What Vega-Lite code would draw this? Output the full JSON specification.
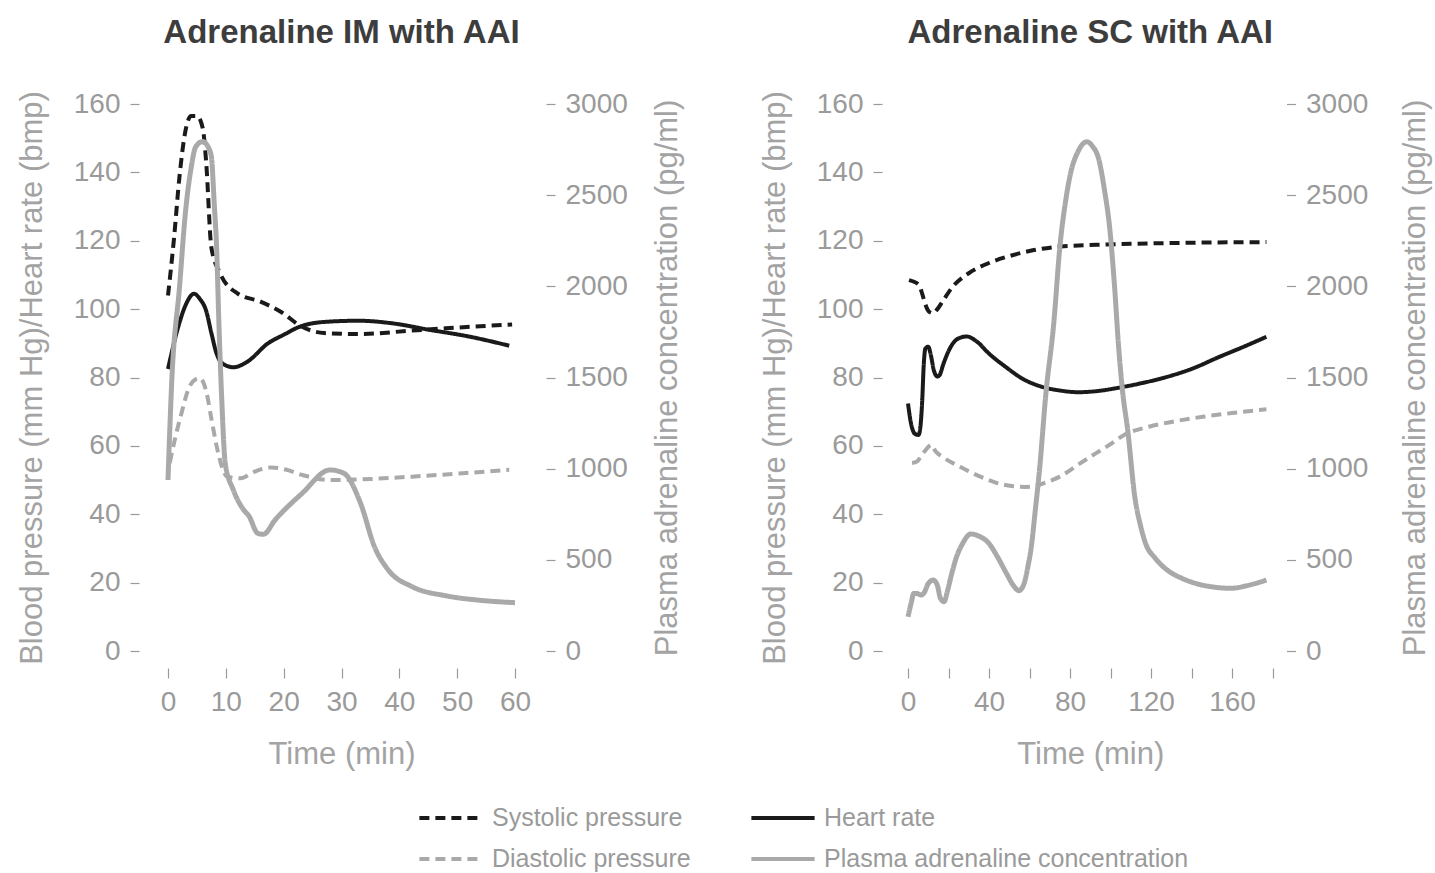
{
  "$schema": "https://vega.github.io/schema/vega-lite/v6.json",
  "padding": {"left": 16, "top": 17, "right": 5, "bottom": 0},
  "background": "white",
  "config": {
    "font": "Liberation Sans",
    "view": {"stroke": null},
    "axis": {"domain": false, "grid": false, "tickColor": "#9a9a9a", "tickWidth": 1.2, "labelColor": "#9a9a9a", "titleColor": "#a3a3a3", "labelFontSize": 28, "titleFontSize": 31, "titleFontWeight": "normal", "tickSize": 9},
    "title": {"fontSize": 33, "fontWeight": "bold", "color": "#3d3d3d", "anchor": "middle"},
    "concat": {"spacing": 76}
  },
  "data": {"values": [
    {"p":"IM","s":"Systolic pressure","t":0,"v":104},
    {"p":"IM","s":"Systolic pressure","t":1,"v":120},
    {"p":"IM","s":"Systolic pressure","t":2,"v":139},
    {"p":"IM","s":"Systolic pressure","t":3,"v":152},
    {"p":"IM","s":"Systolic pressure","t":4,"v":156.5},
    {"p":"IM","s":"Systolic pressure","t":5,"v":156.5},
    {"p":"IM","s":"Systolic pressure","t":6,"v":153},
    {"p":"IM","s":"Systolic pressure","t":6.6,"v":143},
    {"p":"IM","s":"Systolic pressure","t":7.5,"v":118},
    {"p":"IM","s":"Systolic pressure","t":9,"v":110.5},
    {"p":"IM","s":"Systolic pressure","t":12,"v":104.6},
    {"p":"IM","s":"Systolic pressure","t":16,"v":102.2},
    {"p":"IM","s":"Systolic pressure","t":19.7,"v":99},
    {"p":"IM","s":"Systolic pressure","t":23,"v":95},
    {"p":"IM","s":"Systolic pressure","t":27,"v":93},
    {"p":"IM","s":"Systolic pressure","t":33,"v":92.7},
    {"p":"IM","s":"Systolic pressure","t":42,"v":93.7},
    {"p":"IM","s":"Systolic pressure","t":48,"v":94.4},
    {"p":"IM","s":"Systolic pressure","t":54,"v":95},
    {"p":"IM","s":"Systolic pressure","t":59.5,"v":95.5},
    {"p":"IM","s":"Heart rate","t":0,"v":82.5},
    {"p":"IM","s":"Heart rate","t":1.8,"v":95},
    {"p":"IM","s":"Heart rate","t":3,"v":101},
    {"p":"IM","s":"Heart rate","t":4.5,"v":104.5},
    {"p":"IM","s":"Heart rate","t":5.5,"v":103},
    {"p":"IM","s":"Heart rate","t":6.6,"v":99.5},
    {"p":"IM","s":"Heart rate","t":7.5,"v":93},
    {"p":"IM","s":"Heart rate","t":8.4,"v":87},
    {"p":"IM","s":"Heart rate","t":9.5,"v":84},
    {"p":"IM","s":"Heart rate","t":11.3,"v":83},
    {"p":"IM","s":"Heart rate","t":13.7,"v":84.6},
    {"p":"IM","s":"Heart rate","t":17.3,"v":90},
    {"p":"IM","s":"Heart rate","t":20,"v":92.5},
    {"p":"IM","s":"Heart rate","t":23,"v":95},
    {"p":"IM","s":"Heart rate","t":27.4,"v":96.3},
    {"p":"IM","s":"Heart rate","t":33,"v":96.6},
    {"p":"IM","s":"Heart rate","t":39,"v":95.8},
    {"p":"IM","s":"Heart rate","t":45,"v":94},
    {"p":"IM","s":"Heart rate","t":52,"v":92},
    {"p":"IM","s":"Heart rate","t":59,"v":89.3},
    {"p":"IM","s":"Diastolic pressure","t":0.3,"v":55},
    {"p":"IM","s":"Diastolic pressure","t":1.2,"v":62},
    {"p":"IM","s":"Diastolic pressure","t":2.4,"v":70},
    {"p":"IM","s":"Diastolic pressure","t":3.5,"v":76.5},
    {"p":"IM","s":"Diastolic pressure","t":4.8,"v":79.5},
    {"p":"IM","s":"Diastolic pressure","t":5.5,"v":79.8},
    {"p":"IM","s":"Diastolic pressure","t":6.6,"v":76},
    {"p":"IM","s":"Diastolic pressure","t":7.5,"v":68},
    {"p":"IM","s":"Diastolic pressure","t":8.4,"v":60},
    {"p":"IM","s":"Diastolic pressure","t":9.3,"v":54},
    {"p":"IM","s":"Diastolic pressure","t":10.2,"v":51},
    {"p":"IM","s":"Diastolic pressure","t":12.5,"v":50.5},
    {"p":"IM","s":"Diastolic pressure","t":15,"v":52.5},
    {"p":"IM","s":"Diastolic pressure","t":17.9,"v":53.7},
    {"p":"IM","s":"Diastolic pressure","t":20.5,"v":53},
    {"p":"IM","s":"Diastolic pressure","t":23.2,"v":51.5},
    {"p":"IM","s":"Diastolic pressure","t":28,"v":50},
    {"p":"IM","s":"Diastolic pressure","t":33.3,"v":50.2},
    {"p":"IM","s":"Diastolic pressure","t":42.2,"v":51},
    {"p":"IM","s":"Diastolic pressure","t":51,"v":52},
    {"p":"IM","s":"Diastolic pressure","t":59,"v":53},
    {"p":"IM","s":"Plasma adrenaline concentration","t":0,"v":938},
    {"p":"IM","s":"Plasma adrenaline concentration","t":0.65,"v":1480},
    {"p":"IM","s":"Plasma adrenaline concentration","t":2,"v":2000},
    {"p":"IM","s":"Plasma adrenaline concentration","t":3,"v":2400},
    {"p":"IM","s":"Plasma adrenaline concentration","t":4,"v":2650},
    {"p":"IM","s":"Plasma adrenaline concentration","t":4.8,"v":2766},
    {"p":"IM","s":"Plasma adrenaline concentration","t":6,"v":2794},
    {"p":"IM","s":"Plasma adrenaline concentration","t":7,"v":2760},
    {"p":"IM","s":"Plasma adrenaline concentration","t":7.5,"v":2711},
    {"p":"IM","s":"Plasma adrenaline concentration","t":8,"v":2450},
    {"p":"IM","s":"Plasma adrenaline concentration","t":8.4,"v":2217},
    {"p":"IM","s":"Plasma adrenaline concentration","t":8.8,"v":1800},
    {"p":"IM","s":"Plasma adrenaline concentration","t":9.3,"v":1376},
    {"p":"IM","s":"Plasma adrenaline concentration","t":9.9,"v":1029},
    {"p":"IM","s":"Plasma adrenaline concentration","t":11.3,"v":883},
    {"p":"IM","s":"Plasma adrenaline concentration","t":13.1,"v":773},
    {"p":"IM","s":"Plasma adrenaline concentration","t":14,"v":740},
    {"p":"IM","s":"Plasma adrenaline concentration","t":15.5,"v":646},
    {"p":"IM","s":"Plasma adrenaline concentration","t":16.5,"v":640},
    {"p":"IM","s":"Plasma adrenaline concentration","t":18.5,"v":718},
    {"p":"IM","s":"Plasma adrenaline concentration","t":23.2,"v":865},
    {"p":"IM","s":"Plasma adrenaline concentration","t":28,"v":993},
    {"p":"IM","s":"Plasma adrenaline concentration","t":30.4,"v":975},
    {"p":"IM","s":"Plasma adrenaline concentration","t":33.3,"v":810},
    {"p":"IM","s":"Plasma adrenaline concentration","t":35.7,"v":572},
    {"p":"IM","s":"Plasma adrenaline concentration","t":38.1,"v":444},
    {"p":"IM","s":"Plasma adrenaline concentration","t":42.2,"v":353},
    {"p":"IM","s":"Plasma adrenaline concentration","t":48.2,"v":302},
    {"p":"IM","s":"Plasma adrenaline concentration","t":54,"v":278},
    {"p":"IM","s":"Plasma adrenaline concentration","t":60,"v":265},
    {"p":"SC","s":"Systolic pressure","t":0.5,"v":108.5},
    {"p":"SC","s":"Systolic pressure","t":3,"v":108},
    {"p":"SC","s":"Systolic pressure","t":5.5,"v":107},
    {"p":"SC","s":"Systolic pressure","t":7,"v":104.5},
    {"p":"SC","s":"Systolic pressure","t":8.5,"v":101.5},
    {"p":"SC","s":"Systolic pressure","t":10.5,"v":99.2},
    {"p":"SC","s":"Systolic pressure","t":12.5,"v":98.8},
    {"p":"SC","s":"Systolic pressure","t":14.5,"v":100},
    {"p":"SC","s":"Systolic pressure","t":17,"v":102.2},
    {"p":"SC","s":"Systolic pressure","t":22,"v":106.5},
    {"p":"SC","s":"Systolic pressure","t":30,"v":110.5},
    {"p":"SC","s":"Systolic pressure","t":40,"v":113.5},
    {"p":"SC","s":"Systolic pressure","t":50,"v":115.5},
    {"p":"SC","s":"Systolic pressure","t":60,"v":117},
    {"p":"SC","s":"Systolic pressure","t":75,"v":118.3},
    {"p":"SC","s":"Systolic pressure","t":93,"v":118.8},
    {"p":"SC","s":"Systolic pressure","t":110,"v":119.1},
    {"p":"SC","s":"Systolic pressure","t":128,"v":119.3},
    {"p":"SC","s":"Systolic pressure","t":150,"v":119.5},
    {"p":"SC","s":"Systolic pressure","t":177,"v":119.6},
    {"p":"SC","s":"Heart rate","t":0,"v":72.4},
    {"p":"SC","s":"Heart rate","t":1.5,"v":66.5},
    {"p":"SC","s":"Heart rate","t":3.5,"v":63.5},
    {"p":"SC","s":"Heart rate","t":5.2,"v":63.2},
    {"p":"SC","s":"Heart rate","t":6.2,"v":66},
    {"p":"SC","s":"Heart rate","t":7,"v":73},
    {"p":"SC","s":"Heart rate","t":7.8,"v":84},
    {"p":"SC","s":"Heart rate","t":8.6,"v":88.5},
    {"p":"SC","s":"Heart rate","t":10,"v":89},
    {"p":"SC","s":"Heart rate","t":11.3,"v":86.5},
    {"p":"SC","s":"Heart rate","t":12.8,"v":82},
    {"p":"SC","s":"Heart rate","t":14.5,"v":80.3},
    {"p":"SC","s":"Heart rate","t":15.5,"v":80.6},
    {"p":"SC","s":"Heart rate","t":17.5,"v":84},
    {"p":"SC","s":"Heart rate","t":20.5,"v":88.3},
    {"p":"SC","s":"Heart rate","t":24.5,"v":91.3},
    {"p":"SC","s":"Heart rate","t":29,"v":92},
    {"p":"SC","s":"Heart rate","t":34,"v":90.5},
    {"p":"SC","s":"Heart rate","t":40,"v":87},
    {"p":"SC","s":"Heart rate","t":48,"v":83.2},
    {"p":"SC","s":"Heart rate","t":57,"v":79.5},
    {"p":"SC","s":"Heart rate","t":66,"v":77.3},
    {"p":"SC","s":"Heart rate","t":75,"v":76.2},
    {"p":"SC","s":"Heart rate","t":84,"v":75.7},
    {"p":"SC","s":"Heart rate","t":93,"v":76},
    {"p":"SC","s":"Heart rate","t":103,"v":76.9},
    {"p":"SC","s":"Heart rate","t":115,"v":78.3},
    {"p":"SC","s":"Heart rate","t":128,"v":80.2},
    {"p":"SC","s":"Heart rate","t":140,"v":82.5},
    {"p":"SC","s":"Heart rate","t":154,"v":86.1},
    {"p":"SC","s":"Heart rate","t":165,"v":88.8},
    {"p":"SC","s":"Heart rate","t":177,"v":91.9},
    {"p":"SC","s":"Diastolic pressure","t":2,"v":55},
    {"p":"SC","s":"Diastolic pressure","t":4.4,"v":55.4},
    {"p":"SC","s":"Diastolic pressure","t":6.5,"v":57},
    {"p":"SC","s":"Diastolic pressure","t":9,"v":59},
    {"p":"SC","s":"Diastolic pressure","t":11.6,"v":60.3},
    {"p":"SC","s":"Diastolic pressure","t":13.5,"v":58.5},
    {"p":"SC","s":"Diastolic pressure","t":17,"v":56.8},
    {"p":"SC","s":"Diastolic pressure","t":25.7,"v":53.9},
    {"p":"SC","s":"Diastolic pressure","t":32,"v":52},
    {"p":"SC","s":"Diastolic pressure","t":39.9,"v":50},
    {"p":"SC","s":"Diastolic pressure","t":46,"v":48.8},
    {"p":"SC","s":"Diastolic pressure","t":52,"v":48.2},
    {"p":"SC","s":"Diastolic pressure","t":58,"v":48},
    {"p":"SC","s":"Diastolic pressure","t":62.7,"v":48.2},
    {"p":"SC","s":"Diastolic pressure","t":68,"v":49.3},
    {"p":"SC","s":"Diastolic pressure","t":75,"v":51},
    {"p":"SC","s":"Diastolic pressure","t":84,"v":54.5},
    {"p":"SC","s":"Diastolic pressure","t":92.7,"v":57.8},
    {"p":"SC","s":"Diastolic pressure","t":100,"v":60.5},
    {"p":"SC","s":"Diastolic pressure","t":106.7,"v":63.2},
    {"p":"SC","s":"Diastolic pressure","t":119,"v":65.6},
    {"p":"SC","s":"Diastolic pressure","t":130,"v":67},
    {"p":"SC","s":"Diastolic pressure","t":145.5,"v":68.5},
    {"p":"SC","s":"Diastolic pressure","t":160,"v":69.6},
    {"p":"SC","s":"Diastolic pressure","t":177,"v":70.7},
    {"p":"SC","s":"Plasma adrenaline concentration","t":0,"v":188},
    {"p":"SC","s":"Plasma adrenaline concentration","t":1.5,"v":260},
    {"p":"SC","s":"Plasma adrenaline concentration","t":2.9,"v":316},
    {"p":"SC","s":"Plasma adrenaline concentration","t":4.5,"v":315},
    {"p":"SC","s":"Plasma adrenaline concentration","t":6.4,"v":307},
    {"p":"SC","s":"Plasma adrenaline concentration","t":8,"v":320},
    {"p":"SC","s":"Plasma adrenaline concentration","t":10,"v":370},
    {"p":"SC","s":"Plasma adrenaline concentration","t":12.5,"v":389},
    {"p":"SC","s":"Plasma adrenaline concentration","t":14.5,"v":360},
    {"p":"SC","s":"Plasma adrenaline concentration","t":16,"v":290},
    {"p":"SC","s":"Plasma adrenaline concentration","t":17.8,"v":270},
    {"p":"SC","s":"Plasma adrenaline concentration","t":19.5,"v":330},
    {"p":"SC","s":"Plasma adrenaline concentration","t":21.5,"v":420},
    {"p":"SC","s":"Plasma adrenaline concentration","t":24,"v":517},
    {"p":"SC","s":"Plasma adrenaline concentration","t":27,"v":590},
    {"p":"SC","s":"Plasma adrenaline concentration","t":31,"v":642},
    {"p":"SC","s":"Plasma adrenaline concentration","t":35,"v":630},
    {"p":"SC","s":"Plasma adrenaline concentration","t":39.9,"v":591},
    {"p":"SC","s":"Plasma adrenaline concentration","t":44,"v":520},
    {"p":"SC","s":"Plasma adrenaline concentration","t":48.6,"v":426},
    {"p":"SC","s":"Plasma adrenaline concentration","t":52,"v":360},
    {"p":"SC","s":"Plasma adrenaline concentration","t":54.8,"v":331},
    {"p":"SC","s":"Plasma adrenaline concentration","t":57,"v":360},
    {"p":"SC","s":"Plasma adrenaline concentration","t":59.2,"v":462},
    {"p":"SC","s":"Plasma adrenaline concentration","t":61,"v":580},
    {"p":"SC","s":"Plasma adrenaline concentration","t":62.7,"v":755},
    {"p":"SC","s":"Plasma adrenaline concentration","t":65,"v":1000},
    {"p":"SC","s":"Plasma adrenaline concentration","t":68,"v":1400},
    {"p":"SC","s":"Plasma adrenaline concentration","t":72,"v":1800},
    {"p":"SC","s":"Plasma adrenaline concentration","t":75,"v":2217},
    {"p":"SC","s":"Plasma adrenaline concentration","t":78,"v":2480},
    {"p":"SC","s":"Plasma adrenaline concentration","t":80.3,"v":2621},
    {"p":"SC","s":"Plasma adrenaline concentration","t":84,"v":2740},
    {"p":"SC","s":"Plasma adrenaline concentration","t":88.3,"v":2793},
    {"p":"SC","s":"Plasma adrenaline concentration","t":91,"v":2770},
    {"p":"SC","s":"Plasma adrenaline concentration","t":94.3,"v":2693},
    {"p":"SC","s":"Plasma adrenaline concentration","t":97,"v":2530},
    {"p":"SC","s":"Plasma adrenaline concentration","t":99.7,"v":2309},
    {"p":"SC","s":"Plasma adrenaline concentration","t":102,"v":2000},
    {"p":"SC","s":"Plasma adrenaline concentration","t":104,"v":1669},
    {"p":"SC","s":"Plasma adrenaline concentration","t":106,"v":1420},
    {"p":"SC","s":"Plasma adrenaline concentration","t":108.5,"v":1212},
    {"p":"SC","s":"Plasma adrenaline concentration","t":112,"v":846},
    {"p":"SC","s":"Plasma adrenaline concentration","t":115,"v":680},
    {"p":"SC","s":"Plasma adrenaline concentration","t":117.3,"v":591},
    {"p":"SC","s":"Plasma adrenaline concentration","t":122,"v":510},
    {"p":"SC","s":"Plasma adrenaline concentration","t":128,"v":444},
    {"p":"SC","s":"Plasma adrenaline concentration","t":135,"v":400},
    {"p":"SC","s":"Plasma adrenaline concentration","t":142,"v":371},
    {"p":"SC","s":"Plasma adrenaline concentration","t":150,"v":352},
    {"p":"SC","s":"Plasma adrenaline concentration","t":159.5,"v":344},
    {"p":"SC","s":"Plasma adrenaline concentration","t":168,"v":360},
    {"p":"SC","s":"Plasma adrenaline concentration","t":177,"v":389}
  ]},
  "hconcat": [
    {
      "title": {"text": "Adrenaline IM with AAI", "offset": 40},
      "width": 347,
      "height": 547,
      "layer": [
        {
          "transform": [{"filter": "datum.p == 'IM' && datum.s != 'Plasma adrenaline concentration'"}],
          "mark": {"type": "line", "interpolate": "monotone", "strokeWidth": 4},
          "encoding": {
            "x": {"field": "t", "type": "quantitative", "scale": {"domain": [0, 60], "nice": false, "zero": false},
                  "axis": {"values": [0, 10, 20, 30, 40, 50, 60], "labelFlush": false, "offset": 17, "tickSize": 10, "title": "Time (min)", "labelPadding": 10, "titlePadding": 23}},
            "y": {"field": "v", "type": "quantitative", "scale": {"domain": [0, 160], "nice": false},
                  "axis": {"values": [0, 20, 40, 60, 80, 100, 120, 140, 160], "offset": 29, "title": "Blood pressure (mm Hg)/Heart rate (bmp)", "labelPadding": 10, "titlePadding": 25}},
            "color": {"field": "s", "type": "nominal",
              "scale": {"domain": ["Systolic pressure", "Heart rate", "Diastolic pressure", "Plasma adrenaline concentration"], "range": ["#1a1a1a", "#1a1a1a", "#a9a9aa", "#a9a9aa"]},
              "legend": {"title": null, "orient": "none", "legendX": 265, "legendY": 696, "columns": 2, "direction": "horizontal", "labelFontSize": 25, "labelColor": "#9a9a9a", "labelLimit": 500, "symbolStrokeWidth": 4, "symbolType": "M-2,0H2", "symbolSize": 1000, "labelOffset": 23, "columnPadding": 52, "rowPadding": 10}},
            "strokeDash": {"field": "s", "type": "nominal",
              "scale": {"domain": ["Systolic pressure", "Heart rate", "Diastolic pressure", "Plasma adrenaline concentration"], "range": [[10, 6], [1, 0], [10, 6], [1, 0]]},
              "legend": {"title": null}}
          }
        },
        {
          "transform": [{"filter": "datum.p == 'IM' && datum.s == 'Plasma adrenaline concentration'"}],
          "mark": {"type": "line", "interpolate": "monotone", "strokeWidth": 5},
          "encoding": {
            "x": {"field": "t", "type": "quantitative"},
            "y": {"field": "v", "type": "quantitative", "scale": {"domain": [0, 3000], "nice": false},
                  "axis": {"orient": "right", "values": [0, 500, 1000, 1500, 2000, 2500, 3000], "format": "d", "offset": 31, "title": "Plasma adrenaline concentration (pg/ml)", "titleAngle": 270, "titleBaseline": "top", "labelPadding": 10, "titlePadding": 25}},
            "color": {"field": "s", "type": "nominal"},
            "strokeDash": {"field": "s", "type": "nominal"}
          }
        }
      ],
      "resolve": {"scale": {"y": "independent"}}
    },
    {
      "title": {"text": "Adrenaline SC with AAI", "offset": 40},
      "width": 364.5,
      "height": 547,
      "layer": [
        {
          "transform": [{"filter": "datum.p == 'SC' && datum.s != 'Plasma adrenaline concentration'"}],
          "mark": {"type": "line", "interpolate": "monotone", "strokeWidth": 4},
          "encoding": {
            "x": {"field": "t", "type": "quantitative", "scale": {"domain": [0, 180], "nice": false, "zero": false},
                  "axis": {"values": [0, 20, 40, 60, 80, 100, 120, 140, 160, 180], "labelFlush": false, "labelExpr": "datum.value % 40 == 0 && datum.value < 180 ? datum.label : ''", "offset": 17, "tickSize": 10, "title": "Time (min)", "labelPadding": 10, "titlePadding": 23}},
            "y": {"field": "v", "type": "quantitative", "scale": {"domain": [0, 160], "nice": false},
                  "axis": {"values": [0, 20, 40, 60, 80, 100, 120, 140, 160], "offset": 26, "title": "Blood pressure (mm Hg)/Heart rate (bmp)", "labelPadding": 10, "titlePadding": 25}},
            "color": {"field": "s", "type": "nominal"},
            "strokeDash": {"field": "s", "type": "nominal"}
          }
        },
        {
          "transform": [{"filter": "datum.p == 'SC' && datum.s == 'Plasma adrenaline concentration'"}],
          "mark": {"type": "line", "interpolate": "monotone", "strokeWidth": 5},
          "encoding": {
            "x": {"field": "t", "type": "quantitative"},
            "y": {"field": "v", "type": "quantitative", "scale": {"domain": [0, 3000], "nice": false},
                  "axis": {"orient": "right", "values": [0, 500, 1000, 1500, 2000, 2500, 3000], "format": "d", "offset": 14, "title": "Plasma adrenaline concentration (pg/ml)", "titleAngle": 270, "titleBaseline": "top", "labelPadding": 10, "titlePadding": 33}},
            "color": {"field": "s", "type": "nominal"},
            "strokeDash": {"field": "s", "type": "nominal"}
          }
        }
      ],
      "resolve": {"scale": {"y": "independent"}}
    }
  ]
}
